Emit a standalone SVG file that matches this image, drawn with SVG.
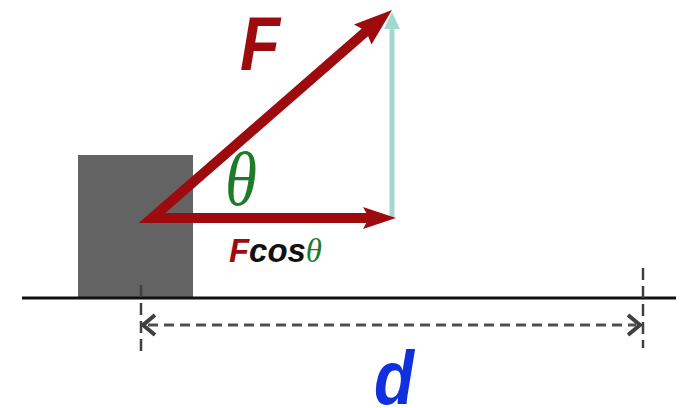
<svg xmlns="http://www.w3.org/2000/svg" width="680" height="408" viewBox="0 0 680 408">
<style>
.red{fill:none;stroke:#9e0b0f;stroke-width:10;stroke-linejoin:miter;stroke-miterlimit:6}
.redh{fill:#9e0b0f}
.dash{fill:none;stroke:#505050;stroke-width:3;stroke-dasharray:10,6}
.tick{fill:none;stroke:#404040;stroke-width:2.5;stroke-dasharray:12,6}
.chev{fill:none;stroke:#404040;stroke-width:4}
.lbl{font-family:"Liberation Sans",Arial,sans-serif;font-weight:bold;font-style:italic}
.th{font-family:"Liberation Serif","Times New Roman",serif;font-style:italic;font-weight:normal;fill:#1f7a2a}
</style>
<rect width="680" height="408" fill="#fff"/>
<g id="block"><rect x="78" y="155" width="115" height="142" fill="#636363"/></g>
<g id="ground"><line x1="22" y1="298" x2="676" y2="298" stroke="#111" stroke-width="3"/></g>
<g id="connectors">
<line x1="392" y1="218" x2="392" y2="26" stroke="#a3d9cc" stroke-width="5"/>
<polygon points="392,12 384,29 400,29" fill="#a3d9cc"/>
<polyline class="red" points="368.8,29 152,218 372,218"/>
<polygon class="redh" points="392,10 371.5,44.5 366,31 354,24.5"/>
<polygon class="redh" points="396,218 363,207 369,218 363,229"/>
<line class="tick" x1="141" y1="285" x2="141" y2="356"/>
<line class="tick" x1="643" y1="268" x2="643" y2="348"/>
<line class="dash" x1="148" y1="325" x2="636" y2="325"/>
<path class="chev" d="M155,315 L143,325 L155,335"/>
<path class="chev" d="M628,315 L640,325 L628,335"/>
</g>
<g id="labels">
<text class="lbl" x="240" y="70" font-size="76" fill="#9e0b0f" textLength="40" lengthAdjust="spacingAndGlyphs">F</text>
<text class="th" x="225" y="205" font-size="76" textLength="32" lengthAdjust="spacingAndGlyphs">θ</text>
<text x="229" y="262" font-size="33" class="lbl" textLength="93" lengthAdjust="spacingAndGlyphs"><tspan fill="#9e0b0f">F</tspan><tspan fill="#111">cos</tspan><tspan class="th">θ</tspan></text>
<text class="lbl" x="374" y="404" font-size="76" fill="#1030e0" textLength="40" lengthAdjust="spacingAndGlyphs">d</text>
</g>
</svg>
